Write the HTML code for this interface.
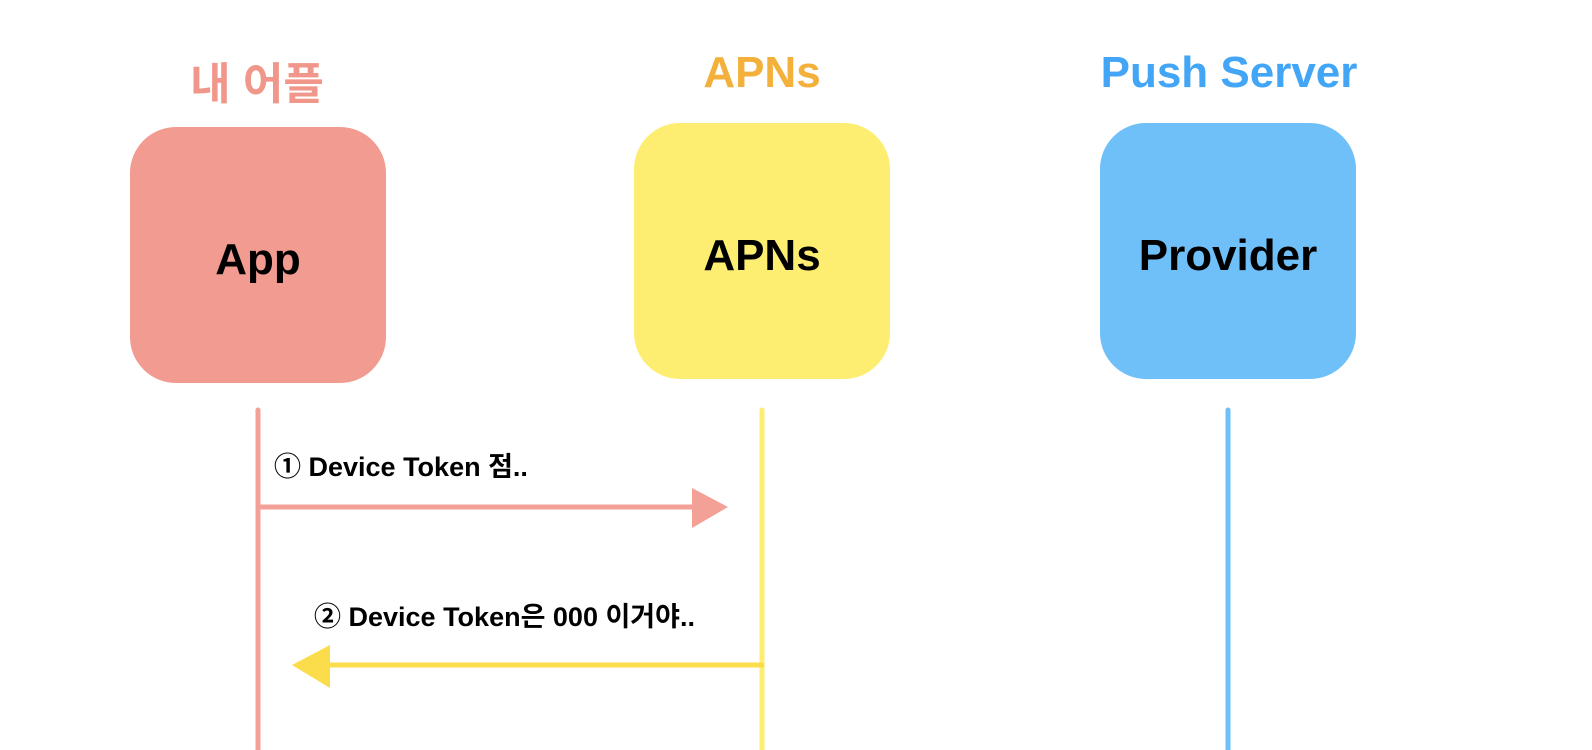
<!DOCTYPE html>
<html><head><meta charset="utf-8"><style>
body{margin:0;width:1592px;height:750px;background:#fff;overflow:hidden;position:relative;font-family:"Liberation Sans","Noto Sans CJK KR",sans-serif;font-weight:bold}
.t{position:absolute;font-size:44px;text-align:center;width:400px}
.b{position:absolute;width:256px;height:256px;border-radius:46px;display:flex;align-items:center;justify-content:center;font-size:44px;color:#000;box-sizing:border-box;padding-top:10px}
.l{position:absolute;font-size:27px;color:#000}
</style></head><body>
<div class="t" style="left:57px;top:48px;color:#f0968a">내 어플</div>
<div class="t" style="left:562px;top:48px;color:#f3b03a">APNs</div>
<div class="t" style="left:1029px;top:48px;color:#42a5f5">Push Server</div>
<div class="b" style="left:130px;top:127px;background:#f29b90">App</div>
<div class="b" style="left:634px;top:123px;background:#fdee72">APNs</div>
<div class="b" style="left:1100px;top:123px;background:#6fc0f8">Provider</div>
<svg width="1592" height="750" style="position:absolute;left:0;top:0">
<g stroke-width="5" fill="none" stroke-linecap="round">
<line x1="258" y1="410" x2="258" y2="750" stroke="#f3a097"/>
<line x1="762" y1="410" x2="762" y2="750" stroke="#fdee72"/>
<line x1="1228" y1="410" x2="1228" y2="750" stroke="#6fc0f8"/>
<line x1="258" y1="507" x2="700" y2="507" stroke="#f3a097"/>
<line x1="762" y1="665" x2="320" y2="665" stroke="#fbdc4a"/>
</g>
<polygon points="692,488 728,507 692,528" fill="#f3a097"/>
<polygon points="330,645 292,665 330,688" fill="#fbdc4a"/>
</svg>
<div class="l" style="left:274px;top:445px">① Device Token 점..</div>
<div class="l" style="left:314px;top:595px">② Device Token은 000 이거야..</div>
</body></html>
